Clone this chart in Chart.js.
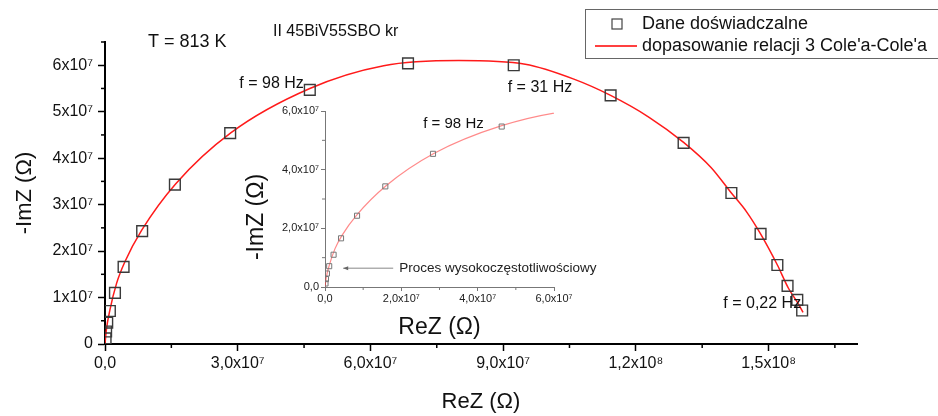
<!DOCTYPE html>
<html><head><meta charset="utf-8">
<script src="https://cdn.jsdelivr.net/npm/chart.js@4.4.1/dist/chart.umd.min.js"></script>
<style>
html,body{margin:0;padding:0;background:#fff;}
#wrap{position:relative;width:938px;height:416px;overflow:hidden;}
#main{position:absolute;left:0;top:0;}
#inset{position:absolute;left:230px;top:95px;}
</style></head><body>
<div id="wrap"><canvas id="main" width="938" height="416"></canvas><canvas id="inset" width="380" height="250"></canvas></div>
<script>
// ---- data (Ohm) ----
const reZ = [1.3e5, 2.5e5, 5.0e5, 1.1e6, 2.25e6, 4.2e6, 8.4e6, 1.58e7, 2.83e7, 4.63e7, 6.85e7, 9.24e7, 1.143e8, 1.308e8, 1.416e8, 1.482e8, 1.52e8, 1.543e8, 1.565e8, 1.576e8];
const imZ = [1.2e6, 2.7e6, 4.6e6, 7.1e6, 1.1e7, 1.66e7, 2.43e7, 3.43e7, 4.54e7, 5.47e7, 6.04e7, 6.0e7, 5.35e7, 4.33e7, 3.25e7, 2.37e7, 1.7e7, 1.25e7, 9.5e6, 7.2e6];
const fitReZ = [0, 3e5, 1.1e6, 2.6e6, 4.5e6, 8.3e6, 1.6e7, 2.85e7, 4.63e7, 6.3e7, 8.0e7, 9.5e7, 1.06e8, 1.143e8, 1.23e8, 1.308e8, 1.37e8, 1.416e8, 1.45e8, 1.482e8, 1.52e8, 1.545e8, 1.565e8, 1.578e8];
const fitImZ = [0, 3.0e6, 7.3e6, 1.3e7, 1.77e7, 2.45e7, 3.45e7, 4.55e7, 5.5e7, 5.99e7, 6.1e7, 6.02e7, 5.7e7, 5.35e7, 4.88e7, 4.34e7, 3.8e7, 3.25e7, 2.85e7, 2.37e7, 1.7e7, 1.2e7, 9.0e6, 6.8e6];

const mainXTicks = [0, 3e7, 6e7, 9e7, 1.2e8, 1.5e8];
const mainXLabels = ['0,0', '3,0x10\u2077', '6,0x10\u2077', '9,0x10\u2077', '1,2x10\u2078', '1,5x10\u2078'];
const mainYTicks = [0, 1e7, 2e7, 3e7, 4e7, 5e7, 6e7];
const mainYLabels = ['0', '1x10\u2077', '2x10\u2077', '3x10\u2077', '4x10\u2077', '5x10\u2077', '6x10\u2077'];
const mainXMinor = [1.5e7, 4.5e7, 7.5e7, 1.05e8, 1.35e8, 1.65e8];
const mainYMinor = [0.5e7, 1.5e7, 2.5e7, 3.5e7, 4.5e7, 5.5e7, 6.5e7];

const insetTicks = [0, 2e7, 4e7, 6e7];
const insetLabels = ['0,0', '2,0x10\u2077', '4,0x10\u2077', '6,0x10\u2077'];
const insetMinor = [1e7, 3e7, 5e7];

const seriesNames = ['Dane do\u015bwiadczalne', "dopasowanie relacji 3 Cole'a-Cole'a"];
const freqNotes = [{i: 9, text: 'f = 98 Hz'}, {i: 11, text: 'f = 31 Hz'}, {i: 19, text: 'f = 0,22 Hz'}];

const FONT = "'Liberation Sans', Arial, sans-serif";
const expPts = reZ.map((v, i) => ({x: v, y: imZ[i]}));
const fitPts = fitReZ.map((v, i) => ({x: v, y: fitImZ[i]}));

function lab(ticksArr, labels) { return (v) => { const k = ticksArr.indexOf(v); return k >= 0 ? labels[k] : ''; }; }

const mainDecor = {
  id: 'mainDecor',
  afterDraw(chart) {
    const {ctx} = chart; const x = chart.scales.x, y = chart.scales.y;
    ctx.save();
    ctx.strokeStyle = '#000'; ctx.lineWidth = 1.5;
    mainXMinor.forEach(v => { const p = x.getPixelForValue(v); ctx.beginPath(); ctx.moveTo(p, y.bottom); ctx.lineTo(p, y.bottom + 4); ctx.stroke(); });
    mainYMinor.forEach(v => { const p = y.getPixelForValue(v); ctx.beginPath(); ctx.moveTo(x.left, p); ctx.lineTo(x.left - 4, p); ctx.stroke(); });
    ctx.fillStyle = '#111'; ctx.textBaseline = 'middle';
    ctx.font = '18px ' + FONT; ctx.textAlign = 'left';
    ctx.fillText('T = 813 K', 148, 42);
    ctx.font = '16px ' + FONT;
    ctx.fillText('II 45BiV55SBO kr', 273, 32);
    // frequency notes
    const px = i => x.getPixelForValue(reZ[i]), py = i => y.getPixelForValue(imZ[i]);
    ctx.textAlign = 'right'; ctx.fillText(freqNotes[0].text, px(9) - 6, py(9) - 6);
    ctx.textAlign = 'left'; ctx.fillText(freqNotes[1].text, px(11) - 6, py(11) + 22);
    ctx.textAlign = 'right'; ctx.fillText(freqNotes[2].text, px(19) - 1, py(19) - 7);
    // legend
    ctx.strokeStyle = '#666'; ctx.lineWidth = 1;
    ctx.strokeRect(585.5, 9.5, 360, 49);
    ctx.strokeStyle = '#444'; ctx.lineWidth = 1.2;
    ctx.strokeRect(612, 19, 10, 10);
    ctx.strokeStyle = '#ff0000'; ctx.lineWidth = 1.5;
    ctx.beginPath(); ctx.moveTo(595, 46); ctx.lineTo(637, 46); ctx.stroke();
    ctx.font = '18px ' + FONT; ctx.textAlign = 'left'; ctx.fillStyle = '#111';
    ctx.fillText(seriesNames[0], 642, 24);
    ctx.fillText(seriesNames[1], 642, 46);
    ctx.restore();
  }
};

new Chart(document.getElementById('main'), {
  type: 'scatter',
  data: {datasets: [
    {label: seriesNames[1], data: fitPts, showLine: true, borderColor: '#ff1a1a', borderWidth: 1.5, pointRadius: 0, cubicInterpolationMode: 'monotone', fill: false, order: 2},
    {label: seriesNames[0], data: expPts, showLine: false, pointStyle: 'rect', pointRadius: 7.6, borderColor: '#3a3a3a', backgroundColor: 'rgba(0,0,0,0)', borderWidth: 1.4, order: 1}
  ]},
  options: {
    responsive: false, animation: false, devicePixelRatio: 1,
    layout: {padding: {left: 0, right: 81, top: 42, bottom: 0}},
    plugins: {legend: {display: false}, tooltip: {enabled: false}},
    scales: {
      x: {type: 'linear', min: 0, max: 1.7e8,
        afterBuildTicks: s => { s.ticks = mainXTicks.map(v => ({value: v})); },
        afterFit: s => { s.height = 72; },
        border: {display: true, color: '#000', width: 2},
        grid: {drawOnChartArea: false, drawTicks: true, tickLength: 7, tickColor: '#000', tickWidth: 1.5},
        ticks: {callback: lab(mainXTicks, mainXLabels), font: {family: FONT, size: 16}, color: '#111', padding: 3, maxRotation: 0, autoSkip: false},
        title: {display: true, text: 'ReZ (\u03a9)', font: {family: FONT, size: 22, lineHeight: 1}, color: '#111', padding: {top: 0, bottom: 3}}
      },
      y: {type: 'linear', min: 0, max: 6.5e7,
        afterBuildTicks: s => { s.ticks = mainYTicks.map(v => ({value: v})); },
        afterFit: s => { s.width = 105; },
        border: {display: true, color: '#000', width: 2},
        grid: {drawOnChartArea: false, drawTicks: true, tickLength: 7, tickColor: '#000', tickWidth: 1.5},
        ticks: {callback: lab(mainYTicks, mainYLabels), font: {family: FONT, size: 16}, color: '#111', padding: 5, autoSkip: false},
        title: {display: true, text: '-ImZ (\u03a9)', font: {family: FONT, size: 22, lineHeight: 1}, color: '#111', padding: {top: 14, bottom: 0}}
      }
    }
  },
  plugins: [mainDecor]
});

const insetDecor = {
  id: 'insetDecor',
  afterDraw(chart) {
    const {ctx} = chart; const x = chart.scales.x, y = chart.scales.y;
    ctx.save();
    ctx.strokeStyle = '#777'; ctx.lineWidth = 1;
    insetMinor.forEach(v => { const p = x.getPixelForValue(v); ctx.beginPath(); ctx.moveTo(p, y.bottom); ctx.lineTo(p, y.bottom + 3); ctx.stroke(); });
    insetMinor.forEach(v => { const p = y.getPixelForValue(v); ctx.beginPath(); ctx.moveTo(x.left, p); ctx.lineTo(x.left - 3, p); ctx.stroke(); });
    // y title
    ctx.fillStyle = '#111'; ctx.font = '23px ' + FONT; ctx.textAlign = 'center'; ctx.textBaseline = 'middle';
    ctx.translate(27, 122); ctx.rotate(-Math.PI / 2); ctx.fillText('-ImZ (\u03a9)', 0, 0);
    ctx.setTransform(1, 0, 0, 1, 0, 0);
    // 98 Hz note
    ctx.font = '15px ' + FONT; ctx.textAlign = 'right';
    ctx.fillText(freqNotes[0].text, x.getPixelForValue(reZ[9]) - 18, y.getPixelForValue(imZ[9]) - 3);
    // arrow to high-frequency process
    const tipX = x.getPixelForValue(reZ[3]) + 14, tipY = y.getPixelForValue(imZ[3]) + 2;
    ctx.strokeStyle = '#888'; ctx.fillStyle = '#666'; ctx.lineWidth = 1;
    ctx.beginPath(); ctx.moveTo(tipX, tipY); ctx.lineTo(tipX + 50, tipY); ctx.stroke();
    ctx.beginPath(); ctx.moveTo(tipX, tipY); ctx.lineTo(tipX + 5, tipY - 2); ctx.lineTo(tipX + 5, tipY + 2); ctx.closePath(); ctx.fill();
    ctx.fillStyle = '#222'; ctx.font = '13.5px ' + FONT; ctx.textAlign = 'left';
    ctx.fillText('Proces wysokocz\u0119stotliwo\u015bciowy', tipX + 56, tipY);
    ctx.restore();
  }
};

new Chart(document.getElementById('inset'), {
  type: 'scatter',
  data: {datasets: [
    {label: seriesNames[1], data: fitPts, showLine: true, borderColor: 'rgba(255,60,60,0.6)', borderWidth: 1.2, pointRadius: 0, cubicInterpolationMode: 'monotone', fill: false, order: 2},
    {label: seriesNames[0], data: expPts, showLine: false, pointStyle: 'rect', pointRadius: 3.6, borderColor: '#777', backgroundColor: 'rgba(0,0,0,0)', borderWidth: 1, order: 1}
  ]},
  options: {
    responsive: false, animation: false, devicePixelRatio: 1,
    layout: {padding: {left: 0, right: 56, top: 16, bottom: 0}},
    plugins: {legend: {display: false}, tooltip: {enabled: false}},
    scales: {
      x: {type: 'linear', min: 0, max: 6e7,
        afterBuildTicks: s => { s.ticks = insetTicks.map(v => ({value: v})); },
        afterFit: s => { s.height = 58; },
        border: {display: true, color: '#777', width: 1},
        grid: {drawOnChartArea: false, drawTicks: true, tickLength: 4, tickColor: '#777', tickWidth: 1},
        ticks: {callback: lab(insetTicks, insetLabels), font: {family: FONT, size: 11}, color: '#222', padding: 1, maxRotation: 0, autoSkip: false},
        title: {display: true, text: 'ReZ (\u03a9)', font: {family: FONT, size: 23, lineHeight: 1}, color: '#111', padding: {top: 0, bottom: 6}}
      },
      y: {type: 'linear', min: 0, max: 6e7,
        afterBuildTicks: s => { s.ticks = insetTicks.map(v => ({value: v})); },
        afterFit: s => { s.width = 95; },
        border: {display: true, color: '#777', width: 1},
        grid: {drawOnChartArea: false, drawTicks: true, tickLength: 4, tickColor: '#777', tickWidth: 1},
        ticks: {callback: lab(insetTicks, insetLabels), font: {family: FONT, size: 11}, color: '#222', padding: 2, autoSkip: false}
      }
    }
  },
  plugins: [insetDecor]
});
</script>
</body></html>
